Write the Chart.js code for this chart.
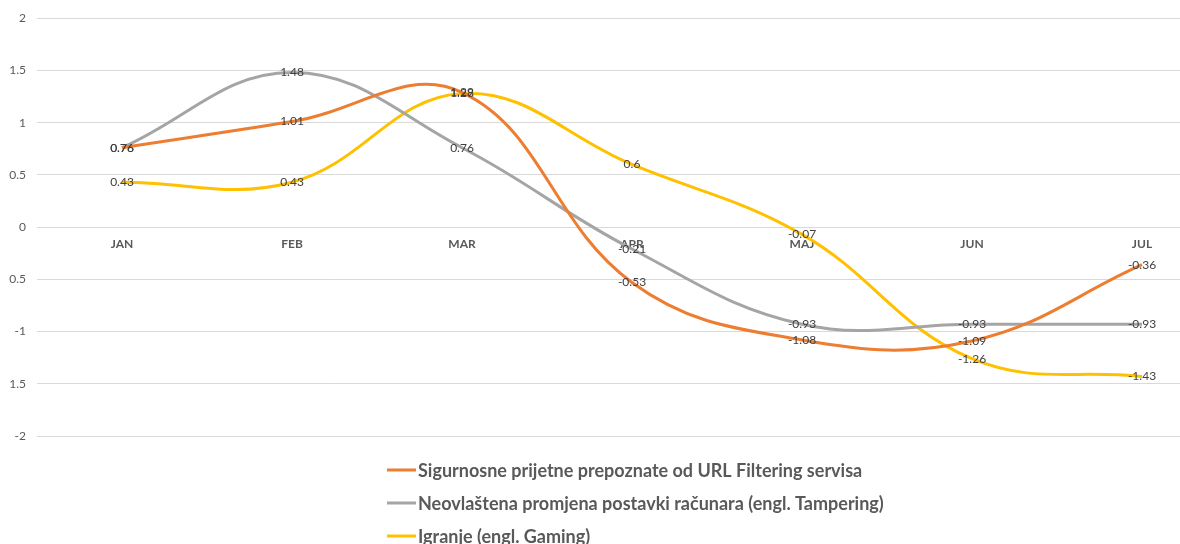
<!DOCTYPE html>
<html>
<head>
<meta charset="utf-8">
<script src="https://cdn.jsdelivr.net/npm/chart.js@4.4.1/dist/chart.umd.min.js"></script>
<style>
  html, body { margin: 0; padding: 0; background: #fff; overflow: hidden; }
  #wrap { position: relative; width: 1228px; height: 544px; }
</style>
</head>
<body>
<div id="wrap"><canvas id="c" width="1228" height="544"></canvas></div>
<script>
// Months on the category axis
const months = ['JAN', 'FEB', 'MAR', 'APR', 'MAJ', 'JUN', 'JUL'];

// Series values per month
const urlFiltering = [0.76, 1.01, 1.29, -0.53, -1.08, -1.09, -0.36];
const tampering    = [0.76, 1.48, 0.76, -0.21, -0.93, -0.93, -0.93];
const gaming       = [0.43, 0.43, 1.28, 0.6, -0.07, -1.26, -1.43];

// Series names
const seriesNames = [
  'Sigurnosne prijetne prepoznate od URL Filtering servisa',
  'Neovlaštena promjena postavki računara (engl. Tampering)',
  'Igranje (engl. Gaming)'
];

// Value-axis tick values and the text printed beside them
const yTickValues = [2, 1.5, 1, 0.5, 0, -0.5, -1, -1.5, -2];
const yTickLabels = ['2', '1.5', '1', '0.5', '0', '0.5', '-1', '1.5', '-2'];

const FONT = 'Lato, "Open Sans", "DejaVu Sans", sans-serif';

// Value labels centred on each point
const pointLabels = {
  id: 'pointLabels',
  afterDatasetsDraw(chart) {
    const ctx = chart.ctx;
    ctx.save();
    ctx.font = '12px ' + FONT;
    ctx.fillStyle = '#404040';
    ctx.textAlign = 'center';
    ctx.textBaseline = 'middle';
    chart.data.datasets.forEach((ds, i) => {
      const meta = chart.getDatasetMeta(i);
      meta.data.forEach((pt, j) => {
        ctx.fillText(String(ds.data[j]), pt.x, pt.y);
      });
    });
    ctx.restore();
  }
};

// Stacked legend under the plot, one series per row
const stackedLegend = {
  id: 'stackedLegend',
  afterDraw(chart) {
    const ctx = chart.ctx;
    ctx.save();
    ctx.font = 'bold 18px ' + FONT;
    ctx.textBaseline = 'middle';
    ctx.textAlign = 'left';
    const widths = chart.data.datasets.map(d => ctx.measureText(d.label).width);
    const blockW = 31 + Math.max(...widths);
    const area = chart.chartArea;
    const x0 = Math.round((area.left + area.right) / 2 + 3 - blockW / 2);
    let y = 470;
    chart.data.datasets.forEach(ds => {
      ctx.strokeStyle = ds.borderColor;
      ctx.lineWidth = 3;
      ctx.beginPath();
      ctx.moveTo(x0, y);
      ctx.lineTo(x0 + 29, y);
      ctx.stroke();
      ctx.fillStyle = '#595959';
      ctx.fillText(ds.label, x0 + 31, y + 1);
      y += 33;
    });
    ctx.restore();
  }
};

const colors = ['#ED7D31', '#A5A5A5', '#FFC000'];
const seriesData = [urlFiltering, tampering, gaming];

new Chart(document.getElementById('c'), {
  type: 'line',
  data: {
    labels: months,
    datasets: seriesData.map((d, i) => ({
      label: seriesNames[i],
      data: d,
      borderColor: colors[i],
      backgroundColor: colors[i],
      borderWidth: 3,
      pointRadius: 0,
      tension: 0.4,
      fill: false
    }))
  },
  options: {
    responsive: false,
    animation: false,
    layout: { padding: { top: 16, right: 1, bottom: 108, left: 0 } },
    plugins: {
      legend: { display: false },
      tooltip: { enabled: false }
    },
    scales: {
      x: {
        position: { y: 0 },
        offset: true,
        grid: { display: false, drawTicks: false },
        border: { display: false },
        ticks: {
          padding: 10,
          color: '#595959',
          font: { family: FONT, size: 12, weight: 'bold' },
          maxRotation: 0
        }
      },
      y: {
        min: -2,
        max: 2,
        afterBuildTicks(scale) {
          scale.ticks = yTickValues.map(v => ({ value: v }));
        },
        afterFit(scale) { scale.width = 37; },
        grid: { color: '#D9D9D9', lineWidth: 1, drawTicks: false },
        border: { display: false },
        ticks: {
          padding: 11,
          color: '#595959',
          font: { family: FONT, size: 12 },
          callback(value) {
            const k = yTickValues.indexOf(value);
            return k >= 0 ? yTickLabels[k] : '';
          }
        }
      }
    }
  },
  plugins: [pointLabels, stackedLegend]
});
</script>
</body>
</html>
